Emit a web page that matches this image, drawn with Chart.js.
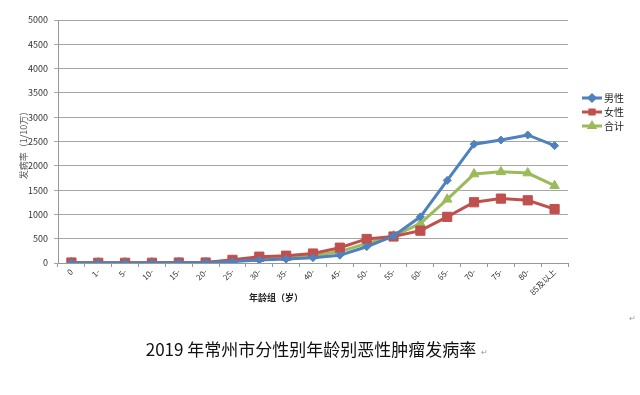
<!DOCTYPE html>
<html>
<head>
<meta charset="utf-8">
<script src="https://cdn.jsdelivr.net/npm/chart.js@4"></script>
<style>
  body { margin: 0; background: #fff; }
  canvas { display: block; }
</style>
</head>
<body>
<canvas id="canvas" width="640" height="395"></canvas>
<script>
var ageGroups = ["0", "1-", "5-", "10-", "15-", "20-", "25-", "30-", "35-", "40-", "45-", "50-", "55-", "60-", "65-", "70-", "75-", "80-", "85及以上"];
var male = [0, 0, 0, 0, 5, 10, 30, 60, 80, 110, 160, 335, 555, 950, 1700, 2445, 2530, 2635, 2415];
var female = [10, 5, 5, 5, 10, 10, 65, 130, 150, 195, 315, 495, 545, 665, 950, 1250, 1325, 1290, 1110];
var total = [5, 3, 3, 3, 8, 10, 45, 95, 115, 150, 235, 405, 555, 815, 1310, 1830, 1875, 1850, 1590];
var yTicks = [0, 500, 1000, 1500, 2000, 2500, 3000, 3500, 4000, 4500, 5000];

var font = "'Noto Sans CJK SC', 'Noto Sans', sans-serif";

// 图例和标题用插件画
var textPlugin = {
  id: "texts",
  afterDraw: function (chart) {
    var ctx = chart.ctx;
    ctx.save();
    // y轴标题
    ctx.fillStyle = "#555";
    ctx.font = "9px " + font;
    ctx.translate(24, 143);
    ctx.rotate(-Math.PI / 2);
    ctx.textAlign = "center";
    ctx.textBaseline = "middle";
    ctx.fillText("发病率（1/10万）", 0, 0);
    ctx.restore();

    ctx.save();
    ctx.fillStyle = "#222";
    ctx.font = "bold 9px " + font;
    ctx.textAlign = "center";
    ctx.textBaseline = "middle";
    ctx.fillText("年龄组（岁）", 276, 298);

    ctx.font = "17px " + font;
    ctx.fillStyle = "#111";
    ctx.fillText("2019 年常州市分性别年龄别恶性肿瘤发病率", 311, 350);

    ctx.fillStyle = "#999";
    ctx.font = "8px " + font;
    ctx.fillText("↵", 484, 352);
    ctx.fillText("↵", 632, 318);

    // 图例
    var ys = [98, 112, 126];
    chart.data.datasets.forEach(function (ds, i) {
      var y = ys[i];
      ctx.strokeStyle = ds.borderColor;
      ctx.fillStyle = ds.borderColor;
      ctx.lineWidth = 3;
      ctx.beginPath();
      ctx.moveTo(582, y);
      ctx.lineTo(602, y);
      ctx.stroke();
      Chart.helpers.drawPoint(ctx, {
        pointStyle: ds.pointStyle,
        radius: 3,
        borderWidth: 1
      }, 592, y);
      ctx.fillStyle = "#222";
      ctx.font = "10px " + font;
      ctx.textAlign = "left";
      ctx.fillText(ds.label, 604, y);
    });
    ctx.restore();
  }
};

function series(label, data, color, style, r) {
  return {
    label: label,
    data: data,
    borderColor: color,
    backgroundColor: color,
    pointStyle: style,
    pointRadius: r,
    pointHoverRadius: r,
    pointBorderWidth: 1,
    borderWidth: 3,
    tension: 0,
    fill: false
  };
}

const ctx = document.getElementById("canvas").getContext("2d");
const myChart = new Chart(ctx, {
  type: "line",
  data: {
    labels: ageGroups,
    datasets: [
      series("男性", male, "#4F81BD", "rectRot", 4),
      series("女性", female, "#C0504D", "rect", 6.5),
      series("合计", total, "#9BBB59", "triangle", 5.5)
    ]
  },
  plugins: [textPlugin],
  options: {
    responsive: false,
    animation: false,
    layout: { padding: { left: 0, top: 20, right: 72, bottom: 0 } },
    plugins: {
      legend: { display: false },
      tooltip: { enabled: false }
    },
    scales: {
      x: {
        offset: true,
        afterFit: function (s) { s.height = 132; },
        grid: {
          offset: true,
          drawOnChartArea: false,
          drawTicks: true,
          tickLength: 4,
          color: "#999"
        },
        border: { color: "#999" },
        ticks: {
          autoSkip: false,
          maxRotation: 45,
          minRotation: 45,
          color: "#333",
          font: { size: 8, family: font },
          padding: 0
        }
      },
      y: {
        min: 0,
        max: 5000,
        afterFit: function (s) { s.width = 58; },
        afterBuildTicks: function (s) {
          s.ticks = yTicks.map(function (v) { return { value: v }; });
        },
        grid: { color: "#a6a6a6", tickLength: 4, lineWidth: 1 },
        border: { color: "#999" },
        ticks: {
          color: "#333",
          font: { size: 9, family: font },
          padding: 6,
          callback: function (v) { return String(v); }
        }
      }
    }
  }
});
</script>
</body>
</html>
